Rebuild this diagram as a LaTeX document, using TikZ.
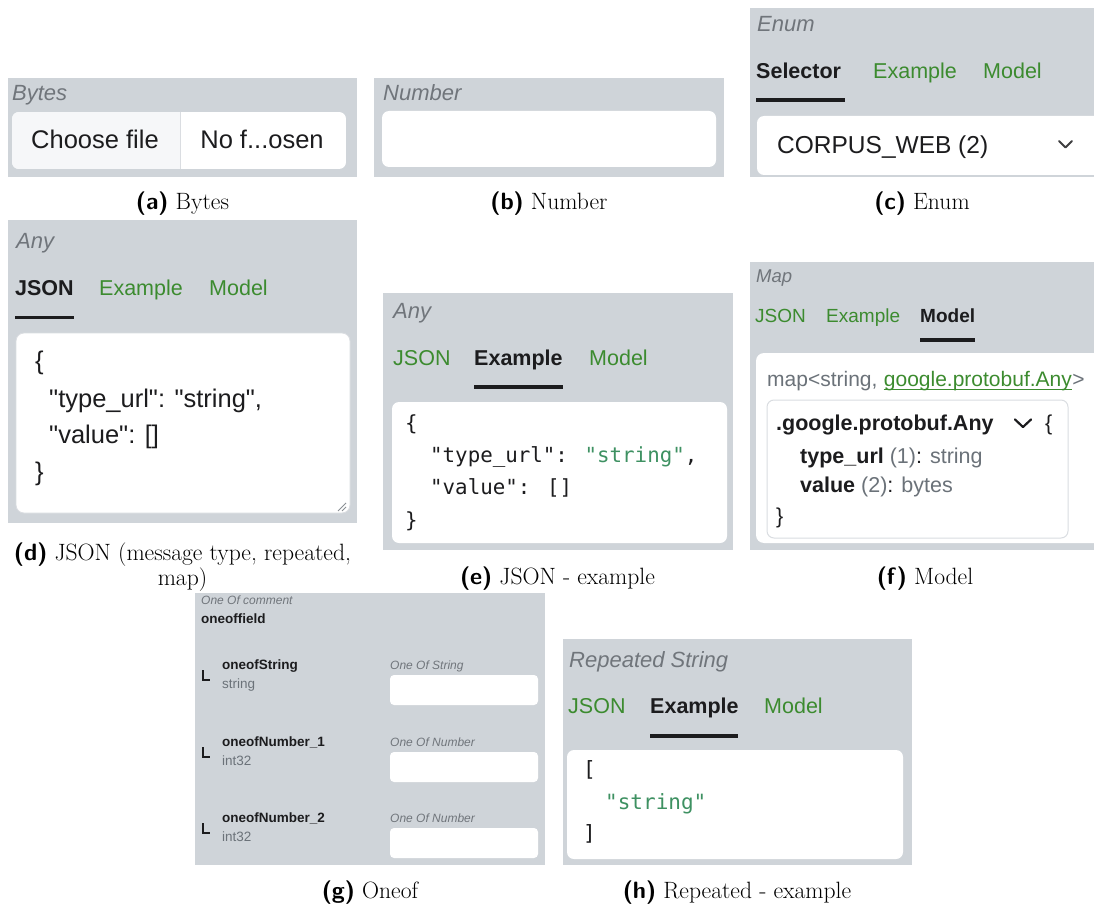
\documentclass[tikz,border=0pt]{standalone}
\usepackage{fontspec}
\newfontfamily\ui{Liberation Sans}
\newfontfamily\mono{DejaVu Sans Mono}
\definecolor{uibg}{HTML}{CFD4D9}
\definecolor{ink}{HTML}{1C1C1E}
\definecolor{hintgray}{HTML}{70757B}
\definecolor{typegray}{HTML}{6B7279}
\definecolor{tabgreen}{HTML}{3C8B2F}
\definecolor{codegreen}{HTML}{3E9162}
\definecolor{btnfill}{HTML}{F6F7F9}
\definecolor{fieldline}{HTML}{DADDE1}
\definecolor{gripgray}{HTML}{8A8F94}
\begin{document}
\begin{tikzpicture}[x=1pt,y=-1pt,
  panel/.style={fill=uibg},
  field/.style={fill=white, rounded corners=7pt},
  hint/.style={anchor=base west, inner sep=0pt, text=hintgray, font=\ui\itshape\fontsize{22}{26}\selectfont},
  tabon/.style={anchor=base west, inner sep=0pt, text=ink, font=\ui\bfseries\fontsize{21.5}{26}\selectfont},
  taboff/.style={anchor=base west, inner sep=0pt, text=tabgreen, font=\ui\fontsize{21.5}{26}\selectfont},
  tabonsm/.style={tabon, font=\ui\bfseries\fontsize{19}{23}\selectfont},
  taboffsm/.style={taboff, font=\ui\fontsize{19}{23}\selectfont},
  tabbar/.style={fill=ink},
  body/.style={anchor=base west, inner sep=0pt, text=ink, font=\ui\fontsize{25.5}{30}\selectfont},
  model/.style={anchor=base west, inner sep=0pt, text=ink, font=\ui\fontsize{21.5}{26}\selectfont},
  code/.style={anchor=base west, inner sep=0pt, text=ink, font=\mono\fontsize{20.8}{25}\selectfont},
  small/.style={anchor=base west, inner sep=0pt, text=ink, font=\ui\fontsize{13.5}{16}\selectfont},
  smallhint/.style={anchor=base west, inner sep=0pt, text=hintgray, font=\ui\itshape\fontsize{12}{14}\selectfont},
  chev/.style={line width=2.2pt, line cap=round, line join=round},
  caption/.style={anchor=base, inner sep=0pt, font=\fontsize{23.6}{26}\selectfont},
]
\useasboundingbox (0,0) rectangle (1094,909);

% ---------- (a) Bytes ----------
\fill[panel] (8,78) rectangle (357,177);
\node[hint] (a-title) at (12,101) {Bytes};
\begin{scope}
  \clip[rounded corners=7pt] (12,112) rectangle (346,169);
  \fill[white] (12,112) rectangle (346,169);
  \fill[btnfill] (12,112) rectangle (180,169);
\end{scope}
\draw[fieldline, line width=0.8pt] (180,112) -- (180,169);
\node[body, anchor=base] (a-choose) at (95,149) {Choose file};
\node[body, anchor=base] (a-none) at (262,149) {No f...osen};
\node[caption] (a-cap) at (182.5,210) {\textsf{\bfseries (a)} Bytes};

% ---------- (b) Number ----------
\fill[panel] (374,78) rectangle (724,177);
\node[hint] (b-title) at (383,101) {Number};
\fill[field] (382,111) rectangle (716,167);
\node[caption] (b-cap) at (549,210) {\textsf{\bfseries (b)} Number};

% ---------- (c) Enum ----------
\fill[panel] (750,8) rectangle (1094,177);
\node[hint] (c-title) at (757,32) {Enum};
\node[tabon] (c-sel) at (756,79) {Selector};
\node[taboff] (c-ex) at (873,79) {Example};
\node[taboff] (c-mod) at (983,79) {Model};
\fill[tabbar] (756,98) rectangle (845,102);
\fill[field] (757,116) rectangle (1102,175);
\node[body, font=\ui\fontsize{24.5}{28}\selectfont] (c-val) at (777,154) {CORPUS\_WEB (2)};
\draw[chev, ink!85, line width=1.8pt] (1059,141) -- (1065.5,147.5) -- (1072,141);
\node[caption] (c-cap) at (922,210) {\textsf{\bfseries (c)} Enum};

% ---------- (d) JSON ----------
\fill[panel] (8,220) rectangle (357,523);
\node[hint] (d-title) at (16,248) {Any};
\node[tabon] (d-json) at (15,295) {JSON};
\node[taboff] (d-ex) at (99,295) {Example};
\node[taboff] (d-mod) at (209,295) {Model};
\fill[tabbar] (15,316) rectangle (74,319);
\draw[fieldline, fill=white, rounded corners=8pt, line width=0.8pt] (16,333) rectangle (350,513);
\node[body] (d-l1) at (35,369) {\{};
\node[body] (d-l2) at (49,407) {"type\_url": "string",};
\node[body] (d-l3) at (49,443) {"value": []};
\node[body] (d-l4) at (35,480) {\}};
\draw[gripgray, line width=0.9pt] (338,511) -- (346,503) (342,511) -- (346,507);
\node[caption] (d-cap1) at (182.5,560) {\textsf{\bfseries (d)} JSON (message type, repeated,};
\node[caption] (d-cap2) at (182.5,585) {map)};

% ---------- (e) JSON example ----------
\fill[panel] (383,293) rectangle (733,550);
\node[hint] (e-title) at (393,318) {Any};
\node[taboff] (e-json) at (393,365) {JSON};
\node[tabon] (e-ex) at (474,365) {Example};
\node[taboff] (e-mod) at (589,365) {Model};
\fill[tabbar] (474,385) rectangle (563,389);
\fill[field] (392,402) rectangle (727,543);
\node[code] (e-l1) at (405,430) {\{};
\node[code] (e-l2) at (430,462) {"type\_url": {\color{codegreen}"string"},};
\node[code] (e-l3) at (430,494.5) {"value": []};
\node[code] (e-l4) at (405,527) {\}};
\node[caption] (e-cap) at (557.5,584) {\textsf{\bfseries (e)} JSON - example};

% ---------- (f) Model ----------
\fill[panel] (750,262) rectangle (1094,550);
\node[hint, font=\ui\itshape\fontsize{18.5}{22}\selectfont] (f-title) at (756,282) {Map};
\node[taboffsm] (f-json) at (755,322) {JSON};
\node[taboffsm] (f-ex) at (826,322) {Example};
\node[tabonsm] (f-mod) at (920,322) {Model};
\fill[tabbar] (920,338) rectangle (975,342);
\fill[white, rounded corners=8pt] (756,353) rectangle (1102,543);
\node[model, text=typegray, font=\ui\fontsize{21}{25}\selectfont] (f-map) at (767,386) {map<string,};
\node[model, text=tabgreen, font=\ui\fontsize{21}{25}\selectfont] (f-any) at ([xshift=6pt]f-map.base east) {google.protobuf.Any};
\node[model, text=typegray, font=\ui\fontsize{21}{25}\selectfont] (f-gt) at (f-any.base east) {>};
\draw[tabgreen, line width=0.9pt] ([yshift=-3pt]f-any.base west) -- ([yshift=-3pt]f-any.base east);
\draw[fieldline, fill=white, rounded corners=7pt, line width=1pt] (767,400) rectangle (1068,538);
\node[model, font=\ui\bfseries\fontsize{21.5}{26}\selectfont] (f-name) at (776,430) {.google.protobuf.Any};
\draw[chev, ink] (1015,419.5) -- (1023,427) -- (1031,419.5);
\node[model] (f-open) at (1045,430) {\{};
\node[model] (f-r1) at (800,463) {\textbf{type\_url} {\color{typegray}(1)}: {\color{typegray}string}};
\node[model] (f-r2) at (800,492) {\textbf{value} {\color{typegray}(2)}: {\color{typegray}bytes}};
\node[model] (f-close) at (776,523) {\}};
\node[caption] (f-cap) at (925,584) {\textsf{\bfseries (f)} Model};

% ---------- (g) Oneof ----------
\fill[panel] (195,593) rectangle (545,865);
\node[smallhint] (g-comment) at (201,604) {One Of comment};
\node[small, font=\ui\bfseries\fontsize{13.5}{16}\selectfont] (g-field) at (201,623) {oneoffield};
% first member
\draw[ink, line width=1.4pt] (203,670) -- (203,680) -- (209.5,680);
\node[small, font=\ui\bfseries\fontsize{13.5}{16}\selectfont] (g-n1) at (222,669) {oneofString};
\node[small, text=typegray] (g-t1) at (222,688) {string};
\node[smallhint] (g-h1) at (390,669) {One Of String};
\fill[white, rounded corners=4pt] (390,675) rectangle (538,705);
% second member
\draw[ink, line width=1.4pt] (203,747) -- (203,757) -- (209.5,757);
\node[small, font=\ui\bfseries\fontsize{13.5}{16}\selectfont] (g-n2) at (222,746) {oneofNumber\_1};
\node[small, text=typegray] (g-t2) at (222,765) {int32};
\node[smallhint] (g-h2) at (390,746) {One Of Number};
\fill[white, rounded corners=4pt] (390,752) rectangle (538,782);
% third member
\draw[ink, line width=1.4pt] (203,823) -- (203,833) -- (209.5,833);
\node[small, font=\ui\bfseries\fontsize{13.5}{16}\selectfont] (g-n3) at (222,822) {oneofNumber\_2};
\node[small, text=typegray] (g-t3) at (222,841) {int32};
\node[smallhint] (g-h3) at (390,822) {One Of Number};
\fill[white, rounded corners=4pt] (390,828) rectangle (538,858);
\node[caption] (g-cap) at (370,898) {\textsf{\bfseries (g)} Oneof};

% ---------- (h) Repeated example ----------
\fill[panel] (563,639) rectangle (912,865);
\node[hint] (h-title) at (569,667) {Repeated String};
\node[taboff] (h-json) at (568,713) {JSON};
\node[tabon] (h-ex) at (650,713) {Example};
\node[taboff] (h-mod) at (764,713) {Model};
\fill[tabbar] (650,734) rectangle (738,737.5);
\fill[field] (567,750) rectangle (903,859);
\node[code, font=\mono\fontsize{21}{25}\selectfont] (h-l1) at (583,776.5) {[};
\node[code, text=codegreen, font=\mono\fontsize{21}{25}\selectfont] (h-l2) at (605,809) {"string"};
\node[code, font=\mono\fontsize{21}{25}\selectfont] (h-l3) at (583,840.5) {]};
\node[caption] (h-cap) at (737,898) {\textsf{\bfseries (h)} Repeated - example};
\end{tikzpicture}
\end{document}
